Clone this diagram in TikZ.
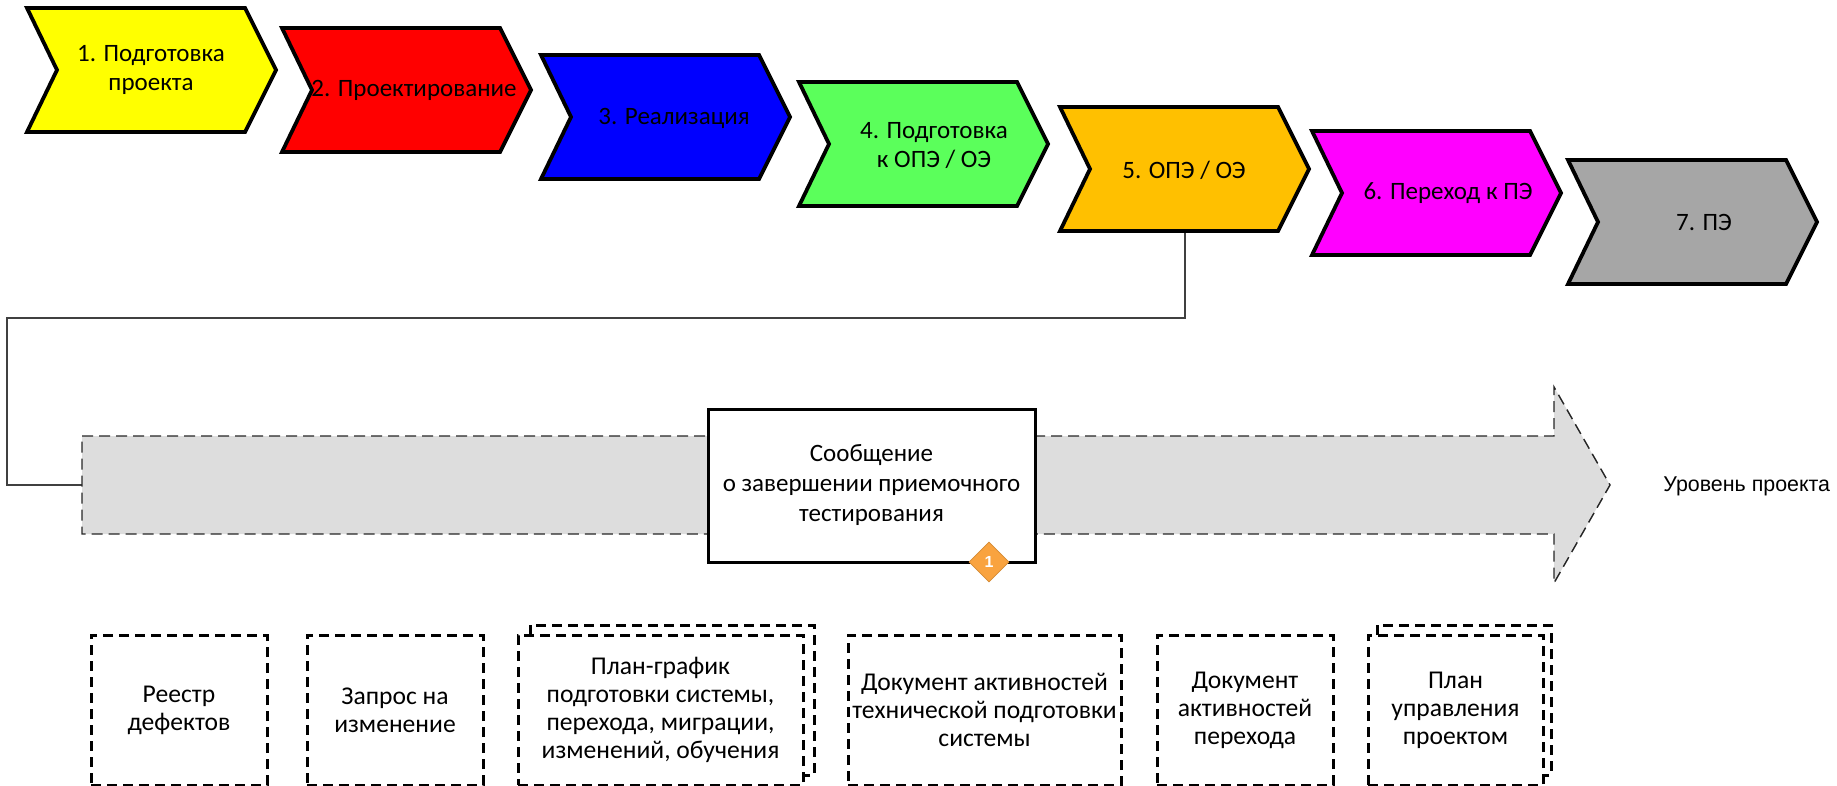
\documentclass[tikz,border=0pt]{standalone}
\usepackage{fontspec}
\setmainfont{Carlito}
\newfontfamily\arialfont{Liberation Sans}
\usetikzlibrary{shapes.geometric}

\definecolor{phaseyellow}{HTML}{FFFF00}
\definecolor{phasered}{HTML}{FF0000}
\definecolor{phaseblue}{HTML}{0000FF}
\definecolor{phasegreen}{HTML}{5BFF5B}
\definecolor{phaseorange}{HTML}{FFC000}
\definecolor{phasemagenta}{HTML}{FF00FF}
\definecolor{phasegray}{HTML}{A6A6A6}
\definecolor{levelfill}{HTML}{DDDDDD}
\definecolor{linkgray}{HTML}{404040}
\definecolor{markorange}{HTML}{F9A33F}

\begin{document}
\begin{tikzpicture}[x=0.5pt, y=-0.5pt,
  phase/.style={draw=black, line width=1.9pt},
  phasetext/.style={align=center, inner sep=0pt, font=\fontsize{12.5}{14.5}\selectfont},
  doc/.style={draw=black, line width=1.5pt, dash pattern=on 5pt off 3pt, minimum height=75pt, inner xsep=1pt, align=center, font=\fontsize{12.8}{14}\selectfont},
  docback/.style={draw=black, line width=1.5pt, dash pattern=on 5pt off 3pt},
  link/.style={draw=linkgray, line width=1pt}]
\useasboundingbox (0,0) rectangle (1837,786);

% connector from phase 5 down to the project level
\coordinate (p5b) at (1185,231);
\coordinate (lvl) at (82,485);
\draw[link] (p5b) |- (7,318) |- (lvl);

% project level arrow
\draw[fill=levelfill, draw=black!85, line width=0.7pt, dash pattern=on 5.5pt off 3pt]
  (82,436) -- (1554,436) -- (1554,387) -- (1610,485) -- (1554,583) -- (1554,534) -- (82,534) -- cycle;
\node[anchor=west, inner sep=0pt, font=\arialfont\fontsize{10.7}{12}\selectfont] (lvltxt) at (1663,486) {Уровень проекта};

% phases
\draw[phase, fill=phaseyellow] (27,8) -- ++(218,0) -- ++(31,62) -- ++(-31,62) -- ++(-218,0) -- ++(30,-62) -- cycle;
\draw[phase, fill=phasered] (282,28) -- ++(218,0) -- ++(31,62) -- ++(-31,62) -- ++(-218,0) -- ++(30,-62) -- cycle;
\draw[phase, fill=phaseblue] (541,55) -- ++(218,0) -- ++(31,62) -- ++(-31,62) -- ++(-218,0) -- ++(30,-62) -- cycle;
\draw[phase, fill=phasegreen] (799,82) -- ++(218,0) -- ++(31,62) -- ++(-31,62) -- ++(-218,0) -- ++(30,-62) -- cycle;
\draw[phase, fill=phaseorange] (1060,107) -- ++(218,0) -- ++(31,62) -- ++(-31,62) -- ++(-218,0) -- ++(30,-62) -- cycle;
\draw[phase, fill=phasemagenta] (1312,131) -- ++(218,0) -- ++(31,62) -- ++(-31,62) -- ++(-218,0) -- ++(30,-62) -- cycle;
\draw[phase, fill=phasegray] (1568,160) -- ++(218,0) -- ++(31,62) -- ++(-31,62) -- ++(-218,0) -- ++(30,-62) -- cycle;
\node[phasetext] (p1) at (151,70) {1. Подготовка\\проекта};
\node[phasetext] (p2) at (414,90) {2. Проектирование};
\node[phasetext] (p3) at (674,118) {3. Реализация};
\node[phasetext] (p4) at (934,146) {4. Подготовка\\к ОПЭ / ОЭ};
\node[phasetext] (p5) at (1184,170) {5. ОПЭ / ОЭ};
\node[phasetext] (p6) at (1448,193) {6. Переход к ПЭ};
\node[phasetext] (p7) at (1704,222) {7. ПЭ};

% message
\node[draw=black, line width=1.5pt, fill=white, minimum width=163.5pt, minimum height=76.5pt, align=center, font=\fontsize{12.5}{15}\selectfont] (msg) at (871.5,485.5) {Сообщение\\о завершении приемочного\\тестирования};
\node[diamond, fill=markorange, draw=markorange!85!black, line width=0.3pt, minimum width=20pt, minimum height=20pt, inner sep=0pt, text=white, font=\arialfont\bfseries\fontsize{8}{9}\selectfont] (mark) at (989,562) {1};

% documents
\draw[docback] (530,635) -- (530,625) -- (814,625) -- (814,775) -- (803,775);
\draw[docback] (1377,635) -- (1377,625) -- (1551,625) -- (1551,775) -- (1543,775);
\node[doc, minimum width=88pt] (reg) at (179,710) {Реестр\\дефектов};
\node[doc, minimum width=88pt] (req) at (395,710) {Запрос на\\изменение};
\node[doc, minimum width=142.5pt] (sched) at (660.5,710) {План-график\\подготовки системы,\\перехода, миграции,\\изменений, обучения};
\node[doc, minimum width=136.5pt] (techdoc) at (984.5,710) {Документ активностей\\технической подготовки\\системы};
\node[doc, minimum width=88pt] (transdoc) at (1245,710) {Документ\\активностей\\перехода};
\node[doc, minimum width=87.5pt] (pmplan) at (1455.5,710) {План\\управления\\проектом};
\end{tikzpicture}
\end{document}
